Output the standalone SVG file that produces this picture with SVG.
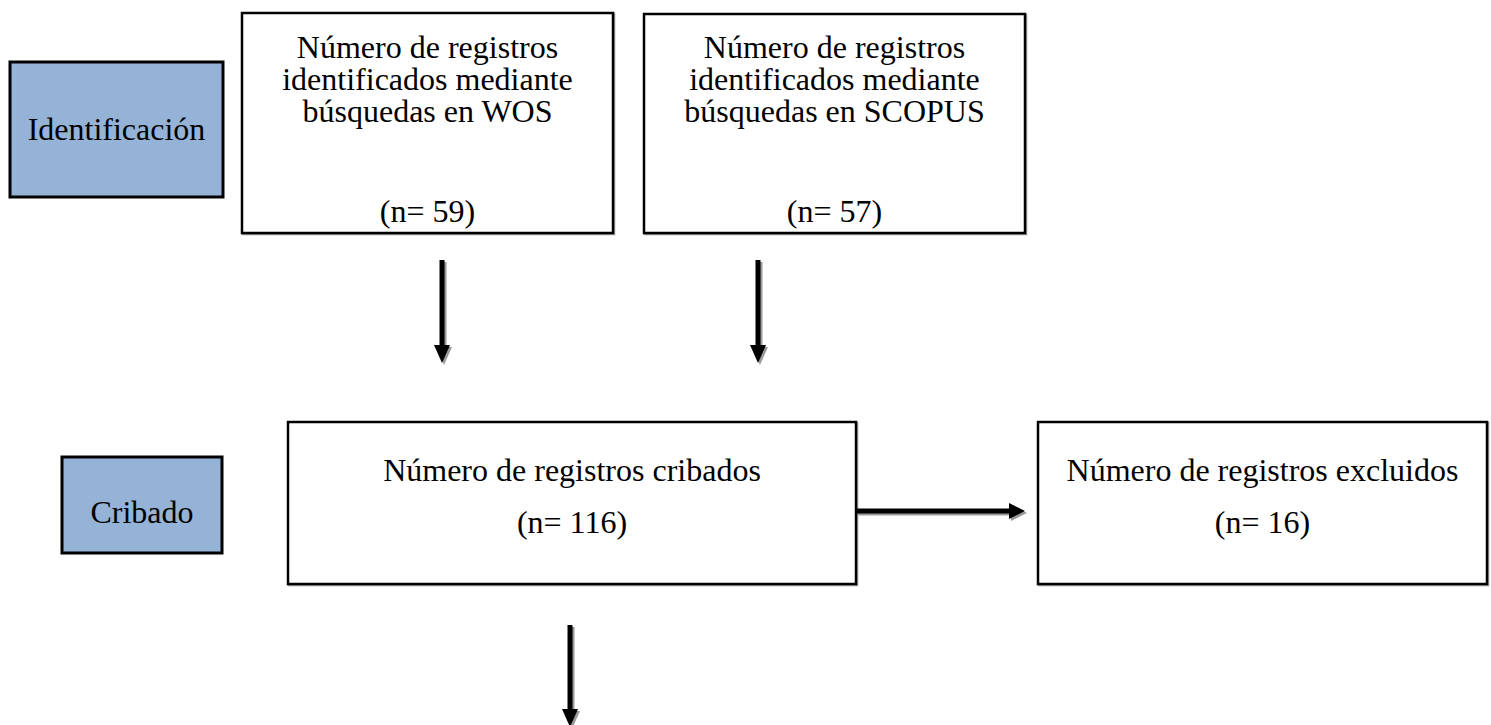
<svg xmlns="http://www.w3.org/2000/svg" width="1491" height="725" viewBox="0 0 1491 725">
<style>
.box{fill:#fff;stroke:#000;stroke-width:2.5}
.stage{fill:#95B3D7;stroke:#000;stroke-width:3}
.shadow{fill:none;stroke:#9a9a9a;stroke-width:2.5}
.t{font-family:"Liberation Serif","Times New Roman",serif;font-size:32px;fill:#000;text-anchor:middle}
.shaft{stroke:#000;stroke-width:5}
.shaftS{stroke:#999;stroke-width:5}
.head{fill:#000}
.headS{fill:#999}
</style>
<rect width="1491" height="725" fill="#fff"/>
<g id="stage-identificacion">
<rect class="stage" x="10" y="62" width="213" height="135"/>
<text class="t" x="116.5" y="140">Identificación</text>
</g>
<g id="stage-cribado">
<rect class="stage" x="62" y="457" width="160" height="96"/>
<text class="t" x="142" y="523">Cribado</text>
</g>
<g id="node-wos">
<rect class="shadow" x="243" y="14" width="371" height="220"/>
<rect class="box" x="242" y="13" width="371" height="220"/>
<text class="t" x="427.5" y="58">Número de registros</text>
<text class="t" x="427.5" y="90">identificados mediante</text>
<text class="t" x="427.5" y="122">búsquedas en WOS</text>
<text class="t" x="427.5" y="222">(n= 59)</text>
</g>
<g id="node-scopus">
<rect class="shadow" x="645" y="15" width="381" height="219"/>
<rect class="box" x="644" y="14" width="381" height="219"/>
<text class="t" x="834.5" y="58">Número de registros</text>
<text class="t" x="834.5" y="90">identificados mediante</text>
<text class="t" x="834.5" y="122">búsquedas en SCOPUS</text>
<text class="t" x="834.5" y="222">(n= 57)</text>
</g>
<g id="node-cribados">
<rect class="shadow" x="289" y="423" width="568" height="162"/>
<rect class="box" x="288" y="422" width="568" height="162"/>
<text class="t" x="572" y="481">Número de registros cribados</text>
<text class="t" x="572" y="533">(n= 116)</text>
</g>
<g id="node-excluidos">
<rect class="shadow" x="1039" y="423" width="449" height="162"/>
<rect class="box" x="1038" y="422" width="449" height="162"/>
<text class="t" x="1262.5" y="481">Número de registros excluidos</text>
<text class="t" x="1262.5" y="533">(n= 16)</text>
</g>
<g id="connectors">
<g id="arrow-wos">
<line class="shaftS" x1="444" y1="262" x2="444" y2="347"/>
<polygon class="headS" points="436,347 452,347 444,365"/>
<line class="shaft" x1="442" y1="260" x2="442" y2="346"/>
<polygon class="head" points="434,345 450,345 442,363"/>
</g>
<g id="arrow-scopus">
<line class="shaftS" x1="760" y1="262" x2="760" y2="347"/>
<polygon class="headS" points="752,347 768,347 760,365"/>
<line class="shaft" x1="758" y1="260" x2="758" y2="346"/>
<polygon class="head" points="750,345 766,345 758,363"/>
</g>
<g id="arrow-excluidos">
<line class="shaftS" x1="858" y1="513" x2="1011" y2="513"/>
<polygon class="headS" points="1011,505 1011,521 1027,513"/>
<line class="shaft" x1="856" y1="511" x2="1011" y2="511"/>
<polygon class="head" points="1009,503 1009,519 1025,511"/>
</g>
<g id="arrow-next">
<line class="shaftS" x1="572" y1="627" x2="572" y2="711"/>
<polygon class="headS" points="564,711 580,711 572,729"/>
<line class="shaft" x1="570" y1="625" x2="570" y2="710"/>
<polygon class="head" points="562,709 578,709 570,727"/>
</g>
</g>
</svg>
